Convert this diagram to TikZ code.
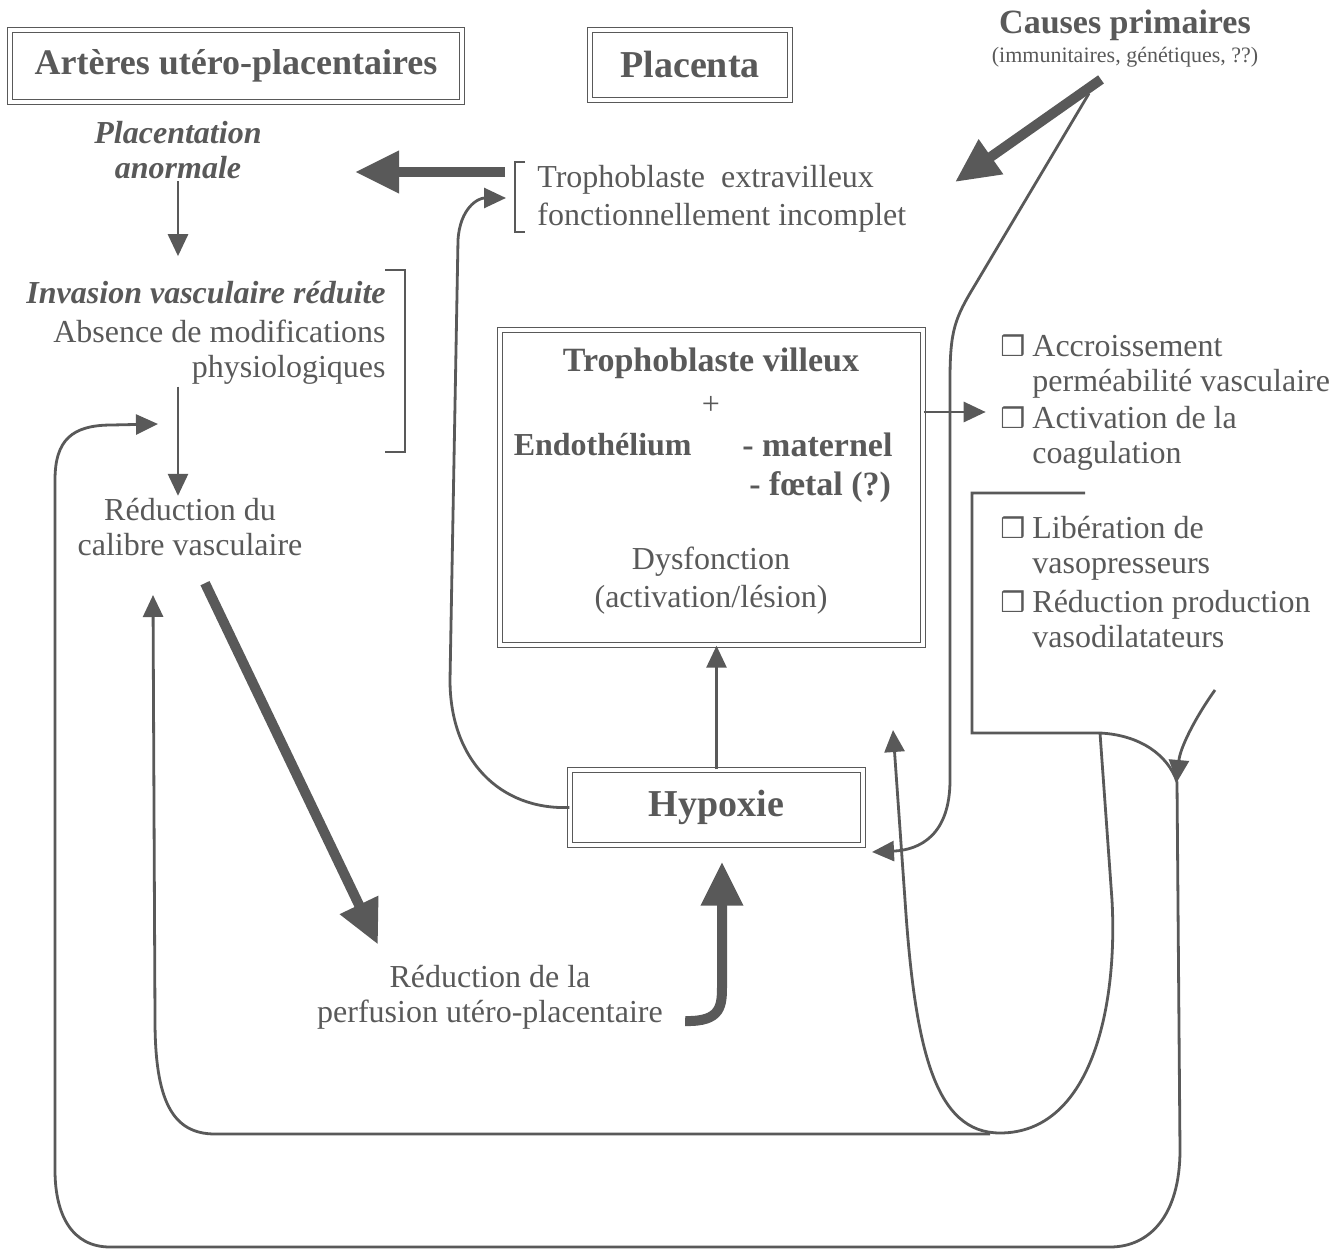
\documentclass[tikz,border=0pt]{standalone}
\usepackage{fontspec}
\setmainfont{Liberation Serif}
\newfontfamily\symfont{DejaVu Sans}
\usetikzlibrary{arrows.meta}

\definecolor{ink}{gray}{0.35}
\newcommand{\bul}{\makebox[16pt][l]{\symfont\fontsize{14}{14}\selectfont ❒}}

\begin{document}
\begin{tikzpicture}[x=0.5pt, y=-0.5pt, >={Triangle[length=11pt, width=10pt]},
	every node/.style={text=ink, inner sep=1pt, font=\fontsize{16}{17.5}\selectfont},
	box/.style={draw=ink, double=white, double distance=2pt, line width=0.7pt, inner sep=0pt},
	head/.style={font=\fontsize{17}{20}\selectfont\bfseries},
	slant/.style={font=\fontsize{16}{17.5}\selectfont\bfseries\itshape},
	link/.style={draw=ink, line width=1.4pt, ->},
	fat/.style={draw=ink, line width=5pt, -{Triangle[length=22pt, width=20pt]}}]
		\useasboundingbox (0,0) rectangle (1334,1251);

		% titres
		\node[box, head, font=\fontsize{18}{20}\selectfont\bfseries, minimum width=226pt, minimum height=36pt] (arteres) at (236,66) {Artères utéro-placentaires};
		\node[box, head, font=\fontsize{19}{20}\selectfont\bfseries, minimum width=100pt, minimum height=35pt] (placenta) at (690,65) {Placenta};
		\node[head]								(causes) at (1125,25) {Causes primaires};
		\node[font=\fontsize{11}{12}\selectfont]	(causesub) at (1125,57) {(immunitaires, génétiques, ??)};

		% colonne de gauche
		\node[slant, align=center]				(anormale) at (178,150) {Placentation\\anormale};
		\node[slant, anchor=east]				(invasion) at (388,293) {Invasion vasculaire réduite};
		\node[anchor=east, align=right]			(absence) at (388,352) {Absence de modifications\\physiologiques};
		\node[align=center]						(calibre) at (190,527) {Réduction du\\calibre vasculaire};
		\node[align=center]						(perf) at (490,997) {Réduction de la\\perfusion utéro-placentaire};

		% placenta
		\node[anchor=west, align=left, font=\fontsize{16}{19}\selectfont] (tropho) at (535,199) {Trophoblaste\ \ extravilleux\\fonctionnellement incomplet};
		\node[box, minimum width=211.5pt, minimum height=157.5pt] (villi) at (711.5,487.5) {};
		\node[head]								(villeux) at (711,363) {Trophoblaste villeux};
		\node[head, font=\fontsize{16}{17.5}\selectfont] (plus) at (711,405) {+};
		\node[head, font=\fontsize{16}{17.5}\selectfont\bfseries, anchor=east] (endo) at (694,445) {Endothélium};
		\node[head, anchor=west]				(maternel) at (740,445) {- maternel};
		\node[head, anchor=west]				(foetal) at (747,487) {- fœtal (?)};
		\node[align=center, font=\fontsize{16}{19}\selectfont] (dysf) at (711,581) {Dysfonction\\(activation/lésion)};
		\node[box, head, font=\fontsize{19}{20}\selectfont\bfseries, minimum width=146.5pt, minimum height=37.5pt] (hypoxie) at (716.5,807.5) {Hypoxie};

		% colonne de droite
		\node[anchor=west, align=left]			(accr) at (998,367) {\bul Accroissement\\\hspace*{16pt}perméabilité vasculaire};
		\node[anchor=west, align=left]			(coag) at (998,438) {\bul Activation de la\\\hspace*{16pt}coagulation};
		\node[anchor=west, align=left]			(liber) at (998,548) {\bul Libération de\\\hspace*{16pt}vasopresseurs};
		\node[anchor=west, align=left]			(vasod) at (998,619) {\bul Réduction production\\\hspace*{16pt}vasodilatateurs};

		\coordinate (junc) at (1177,782);
		\coordinate (ufork) at (1100,733);
		\coordinate (retour) at (1215,690);

		% crochets
		\draw[link, -] (525,162) -- (515,162) -- (515,232) -- (525,232);
		\draw[link, -] (385,270) -- (405,270) -- (405,452) -- (385,452);

		% grosses fleches
		\draw[fat] ([xshift=-15pt, yshift=13.5pt]tropho.west) -- ++(-150,0);
		\draw[fat] ([xshift=-12pt, yshift=-5pt]causesub.south) -- (955,182);
		\draw[fat] ([xshift=7.5pt, yshift=-12.5pt]calibre.south) -- ([xshift=-56pt, yshift=9pt]perf.north);
		\draw[fat, shorten >=8pt] ([xshift=10pt, yshift=-12pt]perf.east) .. controls (722,1022) and (722,1005) .. (722,985) -- ([xshift=2.75pt]hypoxie.south);

		% fleches fines
		\draw[link] (anormale.south) -- ++(0,75);
		\draw[link] (absence.south -| 178,0) -- (calibre.north -| 178,0);
		\draw[link] (villi.east |- 0,412) -- ++(62,0);
		\draw[link] (hypoxie.north) -- (hypoxie.north |- villi.south);
		\draw[link] (hypoxie.west) .. controls (500,810) and (450,760) .. (450,680) -- (458,240) .. controls (460,208) and (478,198) .. (506,198);
		\draw[link] ([xshift=-18pt, yshift=-12pt]causesub.south) -- (975,285) .. controls (955,318) and (950,330) .. (950,380) -- (950,780) .. controls (950,835) and (920,850) .. (872,852);
		\draw[link, -] (1085,493) -| (972,733) -- (ufork) .. controls (1140,735) and (1168,755) .. (junc);
		\draw[link] (retour) .. controls (1195,718) and (1180,748) .. (junc);
		\draw[link] (junc) -- (1180,1150) .. controls (1180,1215) and (1150,1247) .. (1110,1247) -- (110,1247) .. controls (72,1247) and (55,1215) .. (55,1170) -- (55,480) .. controls (55,440) and (72,425) .. (112,425) -- (158,424);
		\draw[link] (ufork) -- (1112,900) .. controls (1118,1010) and (1090,1133) .. (1000,1133) .. controls (935,1133) and (915,1050) .. (905,900) -- (893,730);
		\draw[link] (990,1134) -- (215,1134) .. controls (172,1134) and (155,1100) .. (155,1020) -- (153,595);
\end{tikzpicture}
\end{document}
